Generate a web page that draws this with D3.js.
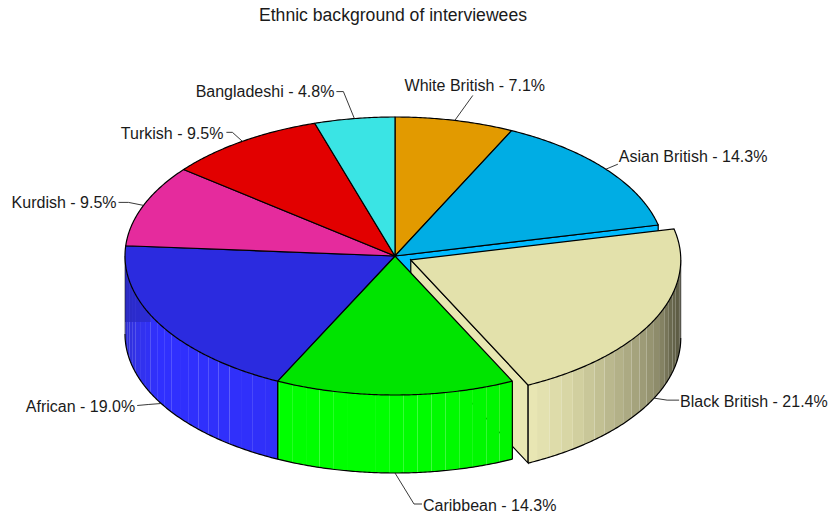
<!DOCTYPE html>
<html>
<head>
<meta charset="utf-8">
<script src="https://cdn.jsdelivr.net/npm/d3@7/dist/d3.min.js"></script>
<style>
  html, body { margin: 0; padding: 0; background: #fff; }
  svg { display: block; }
  text { font-family: "Liberation Sans", Arial, sans-serif; fill: #1a1a1a; }
</style>
</head>
<body>
<div id="chart"></div>
<script>
// Survey shares, clockwise from twelve o'clock
const categories = ["White British", "Asian British", "Black British", "Caribbean",
                    "African", "Kurdish", "Turkish", "Bangladeshi"];
const shares = [7.1, 14.3, 21.4, 14.3, 19.0, 9.5, 9.5, 4.8];
const topColors = ["#e29a00", "#00ade4", "#e3e1ab", "#00e400",
                   "#2b2bdf", "#e52b9d", "#e20000", "#3ae4e4"];
const faceColors = ["#ffae00", "#00baff", "#e9e7b2", "#00ff00",
                    "#3030ff", "#ff30b0", "#ff0000", "#40ffff"];
const explodedCategory = "Black British";

// Chart geometry
const width = 830, height = 517;
const cx = 395, cy = 256, rx = 270, ry = 139, depth = 78;
const explode = 17.5;
const stripDeg = 3;
const bandBreakY = 322;
const outline = 1.2;

// Label placement relative to each slice's anchor on the rim:
// offsets of the leader points (elbow, end) and of the text.
const leaderOffsets = [
  [[18, -25]],
  [[12, -5]],
  [[13, 2], [25, 2]],
  [[19, 31], [27, 31]],
  [[-13, 1], [-24, 2]],
  [[-15, -3], [-25, -3]],
  [[-10, -9], [-16, -9]],
  [[-11, -27], [-18, -27]]
];
const labelOffsets = [
  [20, -35, "middle"], [13, -13, "start"], [26, 3, "start"], [28, 32, "start"],
  [-26, 3, "end"], [-27, -3, "end"], [-19, -8, "end"], [-20, -27, "end"]
];

const deg = d3.scaleLinear().domain([0, 2 * Math.PI]).range([0, 360]);
const pie = d3.pie().sort(null).value(d => d.share)
  .startAngle(0).endAngle(2 * Math.PI);
const slices = pie(categories.map((name, i) => ({ name, share: shares[i], i })))
  .map(s => {
    const mid = (s.startAngle + s.endAngle) / 2;
    const off = s.data.name === explodedCategory ? explode : 0;
    return {
      ...s, mid,
      a0: deg(s.startAngle), a1: deg(s.endAngle),
      ox: off * Math.sin(mid),
      oy: off * Math.abs(Math.cos(mid)) * ry / rx
    };
  });

// Rim shading on the visible front of the drum, as a function of angle
const beigeShade = d3.scaleLinear()
  .domain([90, 100, 106, 113, 125, 135, 145, 154])
  .range(["#4a4a35", "#5f5e46", "#6b6a50", "#8a8868", "#a8a680", "#c0be92", "#d9d7a6", "#e9e7b4"])
  .interpolate(d3.interpolateRgb);
const greenShade = d3.scaleLinear()
  .domain([154, 168, 180, 206]).range(["#00f600", "#00fa00", "#00ff00", "#00ff00"]);
const blueShade = d3.scaleLinear()
  .domain([205, 240, 252, 262, 270]).range(["#3030f8", "#3030ff", "#3232ea", "#3030d8", "#2e2ec8"]);
const blueUpperShade = d3.scaleLinear()
  .domain([240, 255, 270]).range(["#2d2dd8", "#2b2bcc", "#2a2ab8"]);
const shadeOf = {
  "Black British": beigeShade, "Caribbean": greenShade, "African": blueShade
};

const point = (s, a, drop = 0) => {
  const r = a * Math.PI / 180;
  return [cx + s.ox + rx * Math.sin(r), cy + s.oy - ry * Math.cos(r) + drop];
};
const arcPts = (s, a0, a1, drop = 0) => {
  const n = Math.max(2, Math.ceil(Math.abs(a1 - a0) * 2));
  return d3.range(n + 1).map(i => point(s, a0 + (a1 - a0) * i / n, drop));
};
const line = d3.line();
const closed = pts => line(pts) + "Z";

const svg = d3.select("#chart").append("svg")
  .attr("width", width).attr("height", height);
svg.append("rect").attr("width", width).attr("height", height).attr("fill", "#fff");

svg.append("defs").append("clipPath").attr("id", "upper-band")
  .append("rect").attr("width", width).attr("height", bandBreakY);

const bySlice = name => slices.find(s => s.data.name === name);

// Straight cut faces seen through the gap around the pulled-out slice
const radial = (s, a) => {
  const rim = point(s, a), hub = [cx + s.ox, cy + s.oy];
  return closed([hub, rim, [rim[0], rim[1] + depth], [hub[0], hub[1] + depth]]);
};
const back = svg.append("g");
const asian = bySlice("Asian British");
back.append("path").attr("d", radial(asian, asian.a1))
  .attr("fill", faceColors[asian.data.i]).attr("stroke", "#000").attr("stroke-width", outline);
const beige = bySlice("Black British");
back.append("path").attr("d", radial(beige, beige.a1))
  .attr("fill", faceColors[beige.data.i]).attr("stroke", "#000").attr("stroke-width", outline);

// Drum wall: narrow strips stepped from each slice's start angle
function drawWall(s) {
  const from = Math.max(s.a0, 90), to = Math.min(s.a1, 270);
  if (from >= to) return;
  const first = s.a0 + Math.ceil((from - s.a0) / stripDeg) * stripDeg;
  const steps = [from, ...d3.range(first, to, stripDeg).filter(a => a > from), to];
  const strips = d3.pairs(steps);
  const g = svg.append("g");
  const shade = shadeOf[s.data.name];
  const stripPath = ([a, b]) => closed([...arcPts(s, a, b), ...arcPts(s, b, a, depth)]);
  g.selectAll("path.strip").data(strips).join("path").attr("class", "strip")
    .attr("d", stripPath)
    .attr("fill", ([a, b]) => shade((a + b) / 2));
  if (s.data.name === "African") {
    g.append("g").attr("clip-path", "url(#upper-band)")
      .selectAll("path").data(strips.filter(([a]) => a >= 244)).join("path")
      .attr("d", stripPath)
      .attr("fill", ([a, b]) => blueUpperShade((a + b) / 2));
  }
  const top = point(s, from), topEnd = point(s, to);
  // Outline: lower rim plus the cut edges; the tangent edges stay faint
  g.append("path").attr("d", line(arcPts(s, from, to, depth)))
    .attr("fill", "none").attr("stroke", "#000").attr("stroke-width", outline);
  const edges = [[from, top], [to, topEnd]];
  g.selectAll("line").data(edges).join("line")
    .attr("x1", d => d[1][0]).attr("x2", d => d[1][0])
    .attr("y1", d => d[1][1]).attr("y2", d => d[1][1] + depth)
    .attr("stroke", "#000")
    .attr("stroke-opacity", d => (d[0] === 90 || d[0] === 270) ? 0.45 : 1)
    .attr("stroke-width", outline);
}

drawWall(beige);
svg.append("path")
  .attr("d", closed([[cx + beige.ox, cy + beige.oy], ...arcPts(beige, beige.a0, beige.a1)]))
  .attr("fill", topColors[beige.data.i]).attr("stroke", "#000").attr("stroke-width", outline);

slices.filter(s => s !== beige).forEach(drawWall);

// Flat tops of the slices that stay in place
svg.append("g").selectAll("path")
  .data(slices.filter(s => s !== beige)).join("path")
  .attr("d", s => closed([[cx, cy], ...arcPts(s, s.a0, s.a1)]))
  .attr("fill", s => topColors[s.data.i])
  .attr("stroke", "#000").attr("stroke-width", outline).attr("stroke-linejoin", "round");

// Leaders run from the rim, or the lower rim on the front half
const anchorOf = s => {
  const a = deg(s.mid);
  return point(s, a, (a > 90 && a < 270) ? depth : 0);
};
svg.append("g").selectAll("path")
  .data(slices).join("path")
  .attr("d", (s, i) => {
    const p = anchorOf(s);
    return line([p, ...leaderOffsets[i].map(o => [p[0] + o[0], p[1] + o[1]])]);
  })
  .attr("fill", "none").attr("stroke", "#222").attr("stroke-width", 0.9);

const fmt = d3.format(".1f");
svg.append("g").selectAll("text")
  .data(slices).join("text")
  .attr("x", (s, i) => anchorOf(s)[0] + labelOffsets[i][0])
  .attr("y", (s, i) => anchorOf(s)[1] + labelOffsets[i][1])
  .attr("dy", "0.35em")
  .attr("text-anchor", (s, i) => labelOffsets[i][2])
  .attr("font-size", 16)
  .text(s => `${s.data.name} - ${fmt(s.data.share)}%`);

svg.append("text")
  .attr("x", 393).attr("y", 20.5)
  .attr("text-anchor", "middle").attr("font-size", 17.6)
  .text("Ethnic background of interviewees");
</script>
</body>
</html>
